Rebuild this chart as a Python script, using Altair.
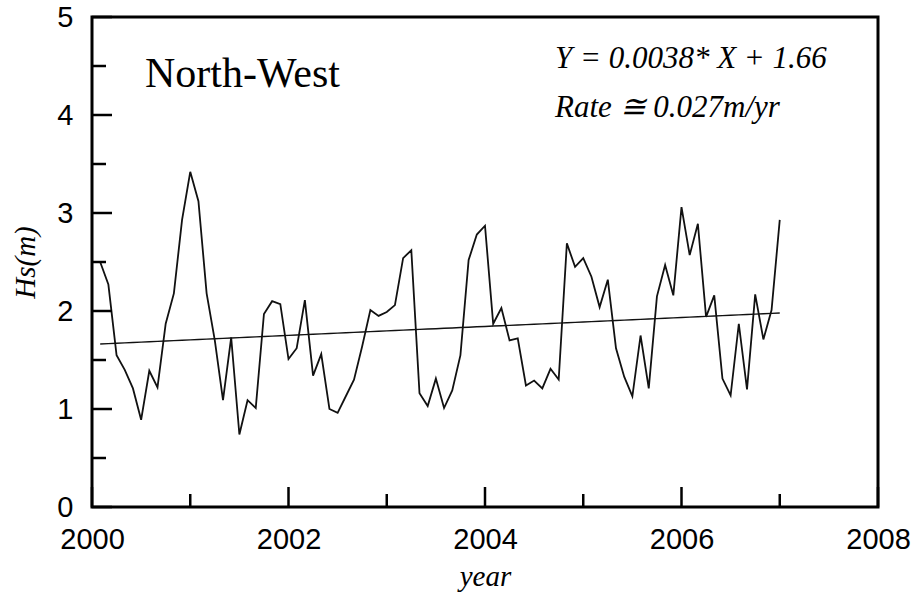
import altair as alt
import pandas as pd

# Monthly mean significant wave height, North-West station (Feb 2000 - Jan 2007)
hs = [
    2.50, 2.27, 1.55, 1.40, 1.21, 0.89, 1.39, 1.22, 1.87, 2.18, 2.93, 3.42,
    3.12, 2.18, 1.70, 1.09, 1.73, 0.74, 1.09, 1.01, 1.97, 2.10, 2.07, 1.51,
    1.62, 2.11, 1.34, 1.56, 1.00, 0.96, 1.13, 1.30, 1.64, 2.01, 1.95, 1.99,
    2.06, 2.54, 2.62, 1.16, 1.03, 1.31, 1.01, 1.19, 1.55, 2.52, 2.78, 2.87,
    1.87, 2.03, 1.70, 1.72, 1.24, 1.29, 1.21, 1.41, 1.30, 2.69, 2.45, 2.54,
    2.35, 2.04, 2.32, 1.62, 1.33, 1.13, 1.75, 1.21, 2.15, 2.47, 2.16, 3.06,
    2.57, 2.89, 1.94, 2.16, 1.31, 1.14, 1.87, 1.20, 2.17, 1.71, 2.01, 2.93,
]
month_index = list(range(1, len(hs) + 1))
start_year = 2000

# Linear fit stated on the chart: Y = 0.0038 * X + 1.66 (X = month index)
slope = 0.0038
intercept = 1.66

station_name = "North-West"
fit_text = "Y = 0.0038* X + 1.66"
rate_text = "Rate \u2245 0.027m/yr"

x_major = [2000, 2002, 2004, 2006, 2008]
x_minor = [2001, 2003, 2005, 2007]
y_major = [0, 1, 2, 3, 4, 5]
y_minor = [0.5, 1.5, 2.5, 3.5, 4.5]

W, H = 786, 490

series = pd.DataFrame({
    "year": [start_year + m / 12 for m in month_index],
    "hs": hs,
    "trend": [intercept + slope * m for m in month_index],
})

xscale = alt.Scale(domain=[2000, 2008], nice=False, zero=False)
yscale = alt.Scale(domain=[0, 5], nice=False)

x_axis = alt.Axis(
    values=x_major, format="d", domain=False, ticks=False, grid=False,
    labelFont="Liberation Sans", labelFontSize=29, labelColor="black",
    labelPadding=18, labelFlush=False,
    title="year", titleFont="Liberation Serif", titleFontStyle="italic",
    titleFontWeight="normal", titleFontSize=29, titleColor="black", titlePadding=8,
)
y_axis = alt.Axis(
    values=y_major, domain=False, ticks=False, grid=False,
    labelFont="Liberation Sans", labelFontSize=29, labelColor="black",
    labelPadding=19, labelFlush=False,
    title="Hs(m)", titleFont="Liberation Serif", titleFontStyle="italic",
    titleFontWeight="normal", titleFontSize=29, titleColor="black", titlePadding=16,
)


def xenc(field):
    return alt.X(field, scale=xscale, axis=x_axis)


def yenc(field):
    return alt.Y(field, scale=yscale, axis=y_axis)


base = alt.Chart(series)

wave = base.mark_line(color="#111111", strokeWidth=1.8).encode(
    x=xenc("year:Q"), y=yenc("hs:Q"),
)
fit = base.mark_line(color="#111111", strokeWidth=1.4).encode(
    x=xenc("year:Q"), y=yenc("trend:Q"),
)


def tick_rules(values, horizontal, length):
    """Inward tick marks drawn from the frame edge."""
    src = alt.Chart(pd.DataFrame({"v": values})).mark_rule(color="black", strokeWidth=2.5)
    if horizontal:
        return src.encode(y=yenc("v:Q"), x=alt.value(0), x2=alt.value(length))
    return src.encode(x=xenc("v:Q"), y=alt.value(H), y2=alt.value(H - length))


ticks = [
    tick_rules(y_major, True, 20),
    tick_rules(y_minor, True, 14),
    tick_rules(x_major, False, 20),
    tick_rules(x_minor, False, 13),
]


def label(text, px, py, size, italic):
    return alt.Chart(pd.DataFrame({"t": [text]})).mark_text(
        font="Liberation Serif", fontSize=size, fontStyle="italic" if italic else "normal",
        align="left", baseline="alphabetic", color="black",
    ).encode(text="t:N", x=alt.value(px), y=alt.value(py))


texts = [
    label(station_name, 53, 70, 42, False),
    label(fit_text, 463, 51, 31, True),
    label(rate_text, 463, 100, 31, True),
]

chart = alt.layer(wave, fit, *ticks, *texts).resolve_scale(x="shared", y="shared").properties(
    width=W, height=H,
    padding={"left": 92, "top": 17, "right": 41, "bottom": 93},
    autosize=alt.AutoSizeParams(type="none"),
    background="white",
).configure_view(stroke="black", strokeWidth=3)

chart.save("out.html", embed_options={"renderer": "svg", "actions": False})
